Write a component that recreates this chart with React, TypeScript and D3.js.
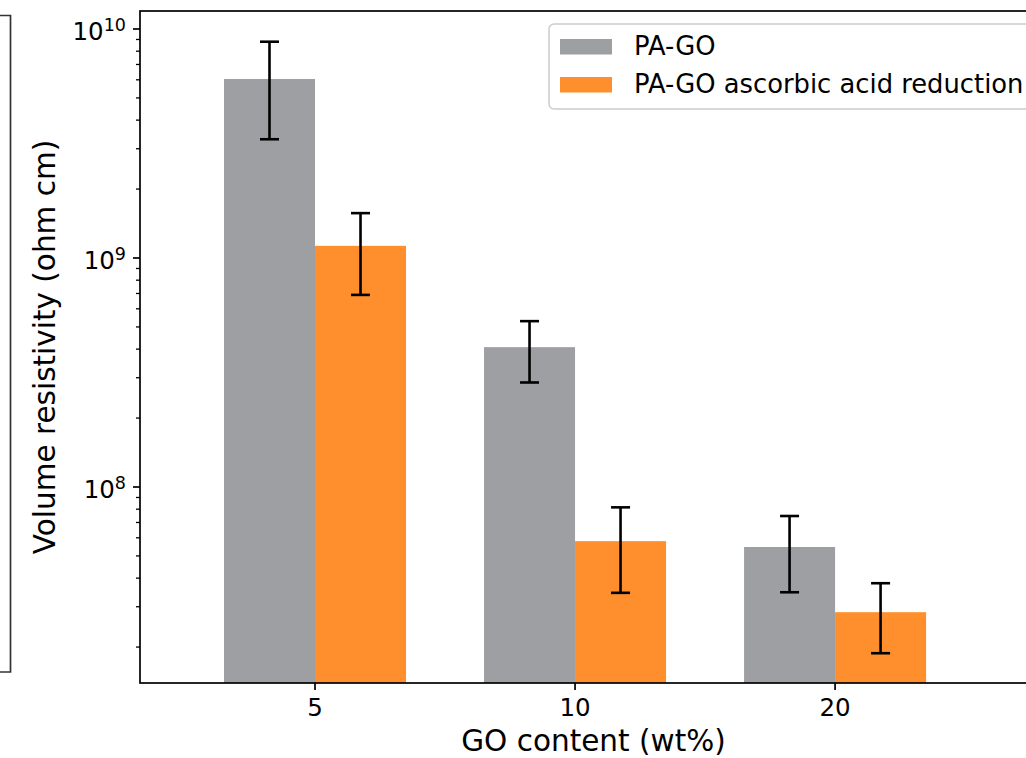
import React from "react";
import * as d3 from "d3";

// GO content groups (wt%)
const categories = ["5", "10", "20"];
// volume resistivity (ohm cm) and symmetric error
const paGo = [6.05e9, 4.08e8, 5.47e7];
const paGoErr = [2.75e9, 1.22e8, 2.0e7];
const paGoReduced = [1.13e9, 5.8e7, 2.84e7];
const paGoReducedErr = [0.44e9, 2.35e7, 0.96e7];
const seriesNames = ["PA-GO", "PA-GO ascorbic acid reduction"];
const seriesColors = ["#9e9fa3", "#fe8f2c"];

const W = 1026;
const H = 758;
const left = 140, right = 1047, top = 11, bottom = 683;
const barWidth = 0.35;
const font = "'DejaVu Sans', sans-serif";

export default function App() {
  const x = d3.scaleLinear().domain([-0.673, 2.815]).range([left, right]);
  const y = d3.scaleLog()
    .domain([Math.pow(10, 7.1441), Math.pow(10, 10.0786)])
    .range([bottom, top]);

  const ticks = y.ticks();
  const isMajor = (v: number) => Math.abs(Math.log10(v) - Math.round(Math.log10(v))) < 1e-9;

  const series = [
    {name: seriesNames[0], values: paGo, err: paGoErr, offset: -barWidth, color: seriesColors[0]},
    {name: seriesNames[1], values: paGoReduced, err: paGoReducedErr, offset: 0, color: seriesColors[1]},
  ];

  return (
    <svg width={W} height={H} style={{position: "absolute", left: 0, top: 0, background: "#fff"}}
      fontFamily={font}>
      {/* partial frame of neighbouring panel */}
      <path d="M0,15.5 H10.5 V672 H0" fill="none" stroke="#333" strokeWidth={1.7}/>

      {/* bars */}
      {series.map(s => (
        <g key={s.name}>
          {s.values.map((v, i) => (
            <rect key={i}
              x={x(i + s.offset)} width={x(i + s.offset + barWidth) - x(i + s.offset)}
              y={y(v)} height={bottom - y(v)} fill={s.color}/>
          ))}
        </g>
      ))}

      {/* error bars */}
      {series.map(s => (
        <g key={s.name + "-err"} stroke="#000" strokeWidth={2.6}>
          {s.values.map((v, i) => {
            const cx = x(i + s.offset + barWidth / 2);
            const y1 = y(v + s.err[i]);
            const y2 = y(v - s.err[i]);
            return (
              <g key={i}>
                <line x1={cx} x2={cx} y1={y1} y2={y2}/>
                <line x1={cx - 9.5} x2={cx + 9.5} y1={y1} y2={y1}/>
                <line x1={cx - 9.5} x2={cx + 9.5} y1={y2} y2={y2}/>
              </g>
            );
          })}
        </g>
      ))}

      {/* spines */}
      <rect x={left} y={top} width={right - left} height={bottom - top}
        fill="none" stroke="#000" strokeWidth={1.7}/>

      {/* y ticks */}
      {ticks.map(t => {
        const major = isMajor(t);
        const yy = y(t);
        return (
          <g key={t}>
            <line x1={left} x2={left - (major ? 7 : 4)} y1={yy} y2={yy} stroke="#000" strokeWidth={major ? 1.7 : 1.3}/>
            {major && (
              <text x={126} y={yy + 11} textAnchor="end" fontSize={24.5} fill="#000">
                10<tspan fontSize={17.5} dy={-9}>{Math.round(Math.log10(t))}</tspan>
              </text>
            )}
          </g>
        );
      })}

      {/* x ticks */}
      {categories.map((c, i) => (
        <g key={c}>
          <line x1={x(i)} x2={x(i)} y1={bottom} y2={bottom + 7} stroke="#000" strokeWidth={1.7}/>
          <text x={x(i)} y={716} textAnchor="middle" fontSize={24.5} fill="#000">{c}</text>
        </g>
      ))}

      {/* axis labels */}
      <text x={(left + right) / 2} y={751} textAnchor="middle" fontSize={29.5} fill="#000">GO content (wt%)</text>
      <text transform={`translate(55,${(top + bottom) / 2}) rotate(-90)`} textAnchor="middle" fontSize={29.5} fill="#000">
        Volume resistivity (ohm cm)
      </text>

      {/* legend */}
      <g>
        <rect x={549} y={24} width={520} height={85} rx={5} fill="#fff" fillOpacity={0.8} stroke="#cccccc" strokeWidth={1.5}/>
        {series.map((s, i) => (
          <g key={s.name} transform={`translate(0,${i * 38})`}>
            <rect x={560} y={39} width={52} height={15.5} fill={s.color}/>
            <text x={634} y={55} fontSize={25.8} fill="#000">{s.name}</text>
          </g>
        ))}
      </g>
    </svg>
  );
}
